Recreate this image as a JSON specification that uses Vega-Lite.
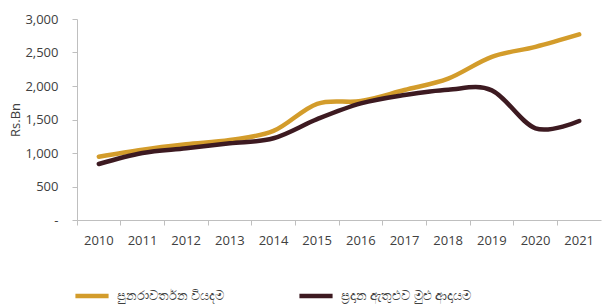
{
  "$schema": "https://vega.github.io/schema/vega-lite/v6.json",
  "autosize": "none",
  "width": 524,
  "height": 201,
  "padding": {"left": 77, "top": 19, "right": 1, "bottom": 84},
  "background": "white",
  "config": {
    "view": {"stroke": null},
    "font": "Open Sans",
    "axis": {"labelFont": "Open Sans", "titleFont": "Open Sans", "labelColor": "#404040", "titleColor": "#404040"}
  },
  "data": {
    "values": [
      {"year": "2010", "series": "පුනරාවර්තන වියදම", "value": 945},
      {"year": "2011", "series": "පුනරාවර්තන වියදම", "value": 1050},
      {"year": "2012", "series": "පුනරාවර්තන වියදම", "value": 1130},
      {"year": "2013", "series": "පුනරාවර්තන වියදම", "value": 1195},
      {"year": "2014", "series": "පුනරාවර්තන වියදම", "value": 1330},
      {"year": "2015", "series": "පුනරාවර්තන වියදම", "value": 1735},
      {"year": "2016", "series": "පුනරාවර්තන වියදම", "value": 1775},
      {"year": "2017", "series": "පුනරාවර්තන වියදම", "value": 1940},
      {"year": "2018", "series": "පුනරාවර්තන වියදම", "value": 2110},
      {"year": "2019", "series": "පුනරාවර්තන වියදම", "value": 2435},
      {"year": "2020", "series": "පුනරාවර්තන වියදම", "value": 2585},
      {"year": "2021", "series": "පුනරාවර්තන වියදම", "value": 2770},
      {"year": "2010", "series": "ප්‍රදාන ඇතුළුව මුළු ආදායම", "value": 836},
      {"year": "2011", "series": "ප්‍රදාන ඇතුළුව මුළු ආදායම", "value": 1000},
      {"year": "2012", "series": "ප්‍රදාන ඇතුළුව මුළු ආදායම", "value": 1070},
      {"year": "2013", "series": "ප්‍රදාන ඇතුළුව මුළු ආදායම", "value": 1145},
      {"year": "2014", "series": "ප්‍රදාන ඇතුළුව මුළු ආදායම", "value": 1220},
      {"year": "2015", "series": "ප්‍රදාන ඇතුළුව මුළු ආදායම", "value": 1505},
      {"year": "2016", "series": "ප්‍රදාන ඇතුළුව මුළු ආදායම", "value": 1740},
      {"year": "2017", "series": "ප්‍රදාන ඇතුළුව මුළු ආදායම", "value": 1865},
      {"year": "2018", "series": "ප්‍රදාන ඇතුළුව මුළු ආදායම", "value": 1945},
      {"year": "2019", "series": "ප්‍රදාන ඇතුළුව මුළු ආදායම", "value": 1935},
      {"year": "2020", "series": "ප්‍රදාන ඇතුළුව මුළු ආදායම", "value": 1368},
      {"year": "2021", "series": "ප්‍රදාන ඇතුළුව මුළු ආදායම", "value": 1478}
    ]
  },
  "mark": {"type": "line", "strokeWidth": 4.5, "interpolate": "cardinal", "strokeCap": "round"},
  "encoding": {
    "x": {
      "field": "year", "type": "ordinal", "bandPosition": 0.5,
      "scale": {"type": "band", "paddingInner": 0, "paddingOuter": 0},
      "axis": {"title": null, "labelAngle": 0, "labelFontSize": 13, "labelPadding": 9, "tickSize": 5, "bandPosition": 0, "tickColor": "#bfbfbf", "domainColor": "#bfbfbf", "grid": false}
    },
    "y": {
      "field": "value", "type": "quantitative",
      "scale": {"domain": [0, 3000]},
      "axis": {"title": "Rs.Bn", "titleFontSize": 13, "titleFontWeight": "normal", "titlePadding": 2, "values": [0, 500, 1000, 1500, 2000, 2500, 3000], "labelExpr": "datum.value == 0 ? '-' : format(datum.value, ',')", "labelFontSize": 13, "labelPadding": 14, "tickSize": 5, "tickColor": "#bfbfbf", "domainColor": "#bfbfbf", "grid": false}
    },
    "color": {
      "field": "series", "type": "nominal",
      "scale": {"domain": ["පුනරාවර්තන වියදම", "ප්‍රදාන ඇතුළුව මුළු ආදායම"], "range": ["#D39C2B", "#3D1A21"]},
      "legend": {"title": null, "orient": "none", "legendX": -4, "legendY": 258, "direction": "horizontal", "columns": 2, "columnPadding": 65, "symbolType": "stroke", "symbolSize": 1100, "symbolStrokeWidth": 4.5, "labelFontSize": 13, "labelColor": "#404040", "labelOffset": 6}
    }
  }
}
